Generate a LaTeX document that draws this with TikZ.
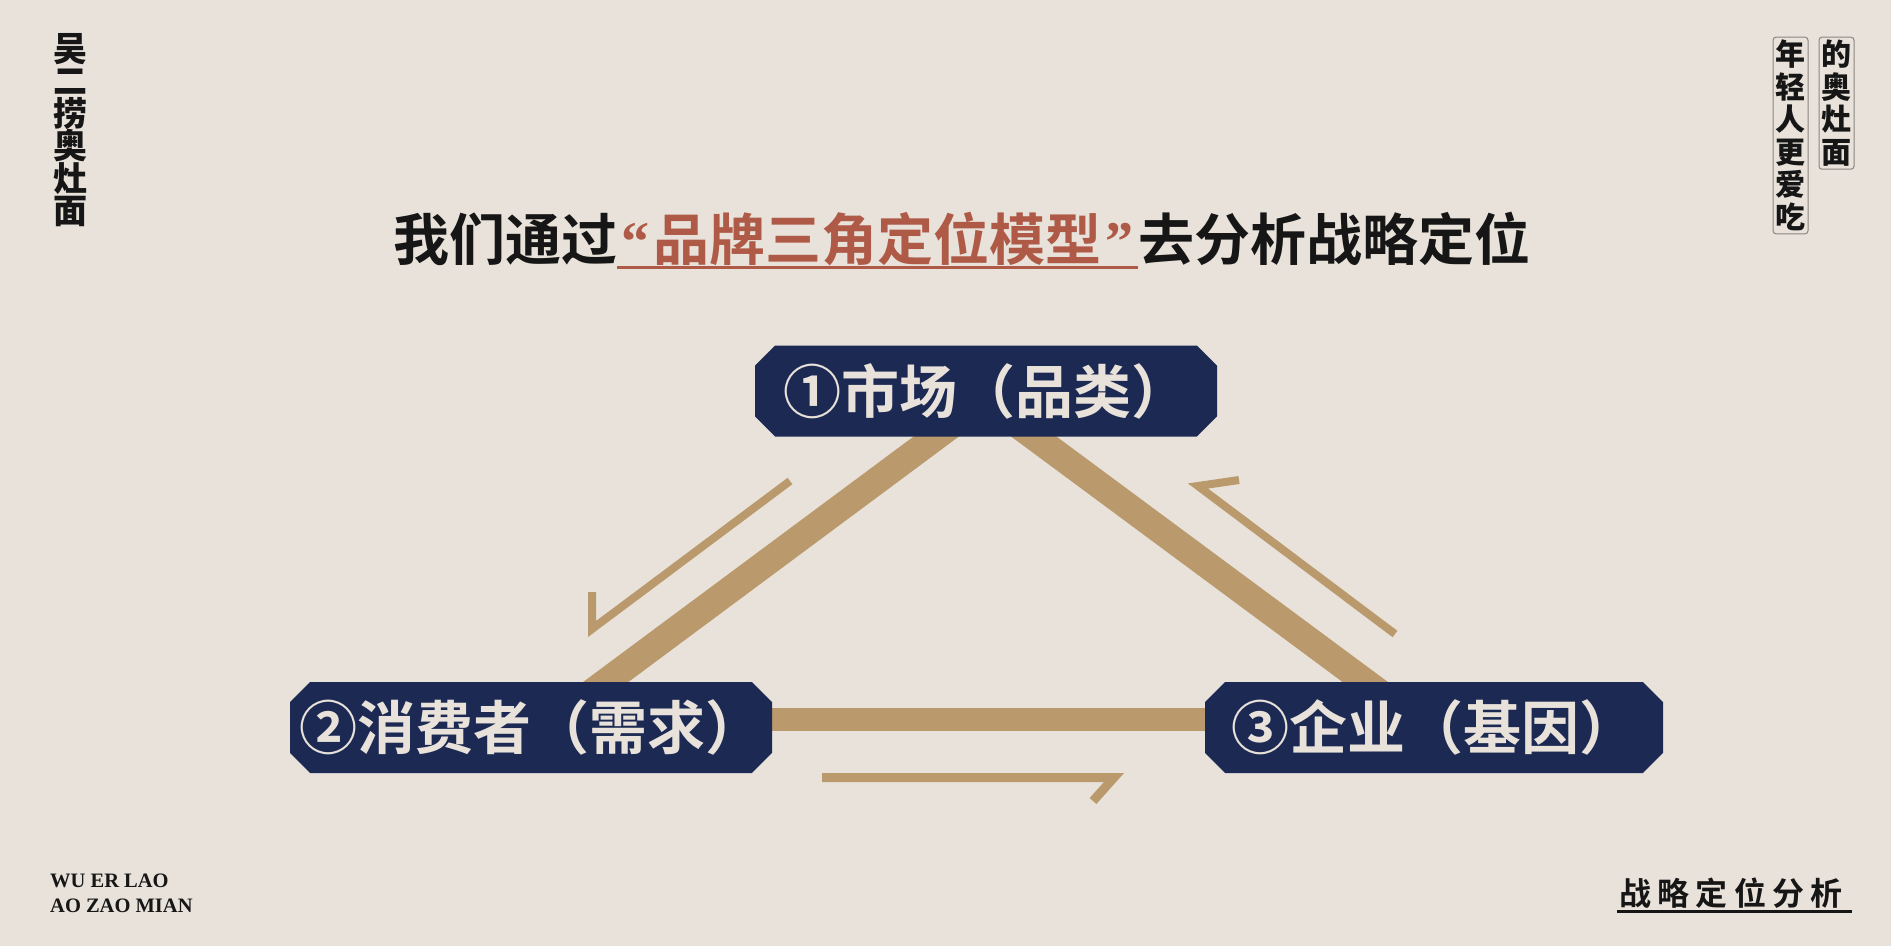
\documentclass[tikz,border=0pt]{standalone}
\usepackage{fontspec}
\setmainfont{Liberation Serif}
\newfontfamily\cjk{Noto Sans CJK SC}[BoldFont={Noto Sans CJK SC Bold}]
\newfontfamily\cjkblack{Noto Sans CJK SC Black}
\usetikzlibrary{positioning,shapes.misc,backgrounds}

\definecolor{paper}{HTML}{E8E2DA}
\definecolor{navy}{HTML}{1B2953}
\definecolor{gold}{HTML}{BA9A6C}
\definecolor{brick}{HTML}{AE5A47}
\definecolor{ink}{HTML}{161616}
\definecolor{frame}{HTML}{8A8580}

\newcommand{\openq}{{\rmfamily\bfseries\kern4pt“\kern4pt}}
\newcommand{\closeq}{{\rmfamily\bfseries\kern4pt”\kern4pt}}

\tikzset{
  pillar/.style={chamfered rectangle, chamfered rectangle xsep=17pt, fill=navy, text=paper,
    font=\cjk\bfseries\fontsize{58}{58}\selectfont, minimum height=91pt, inner xsep=-8pt, inner ysep=0pt},
  bar/.style={gold, line width=24pt, shorten <=-20pt, shorten >=-20pt},
  harpoon/.style={gold, line width=8pt},
  title/.style={font=\cjk\bfseries\fontsize{56}{56}\selectfont, text=ink, inner sep=0pt},
  vtext/.style={font=\cjkblack\fontsize{30}{32.5}\selectfont, text=ink, align=center, inner xsep=2.5pt, inner ysep=3pt},
  latin/.style={font=\bfseries\fontsize{20.5}{24}\selectfont, text=ink, inner sep=0pt}
}

\begin{document}
\begin{tikzpicture}[x=1pt, y=-1pt]
  \useasboundingbox (0,0) rectangle (1891,946);

  \node[title, anchor=base west] (tl) at (393,260) {我们通过};
  \node[title, text=brick, base right=0pt of tl] (tm) {\openq 品牌三角定位模型\closeq};
  \node[title, base right=0pt of tm] (tr) {去分析战略定位};
  \draw[brick, line width=3pt] ([yshift=-7pt]tm.base west) -- ([yshift=-7pt]tm.base east);

  \node[pillar, minimum width=462pt] (mkt) at (986,391) {①市场（品类）};
  \node[pillar, minimum width=482pt] (csm) at (531,727.5) {②消费者（需求）};
  \node[pillar, minimum width=458pt] (ent) at (1434,727.5) {③企业（基因）};

  \begin{scope}[on background layer]
    \fill[paper] (0,0) rectangle (1891,946);
    \draw[bar, line width=27pt] ([xshift=-50pt]mkt.south) -- ([xshift=75pt]csm.north);
    \draw[bar, line width=27pt] ([xshift=48pt]mkt.south) -- ([xshift=-69pt]ent.north);
    \draw[bar, line width=23pt] ([yshift=8pt]csm.east) -- ([yshift=8pt]ent.west);
  \end{scope}

  \coordinate (la) at (790,481);
  \coordinate (lb) at (592,629);
  \coordinate (lc) at (592,592);
  \draw[harpoon] (la) -- (lb) -- (lc);
  \coordinate (ra) at (1395,634);
  \coordinate (rb) at (1198,486);
  \coordinate (rc) at (1239,480);
  \draw[harpoon] (ra) -- (rb) -- (rc);
  \coordinate (ba) at (822,777.5);
  \coordinate (bb) at (1114,777.5);
  \coordinate (bc) at (1093,801);
  \draw[harpoon, line width=9pt] (ba) -- (bb) -- (bc);

  \node[vtext, font=\cjkblack\fontsize{34}{32.5}\selectfont] (brand) at (70,130) {吴\\二\\捞\\奥\\灶\\面};
  \node[vtext, draw=frame, line width=1pt, rounded corners=3pt] (sl1) at (1790.5,135.5) {年\\轻\\人\\更\\爱\\吃};
  \node[vtext, draw=frame, line width=1pt, rounded corners=3pt, right=10pt of sl1.north east, anchor=north west] (sl2) {的\\奥\\灶\\面};

  \node[latin, anchor=base west] (wu1) at (50,887) {WU ER LAO};
  \node[latin, anchor=base west] (wu2) at (50,912) {AO ZAO MIAN};

  \node[font=\cjk\bfseries\fontsize{32}{32}\selectfont, text=ink, inner xsep=0pt, inner ysep=3pt] (tag) at (1731,893)
    {战\kern6.4pt 略\kern6.4pt 定\kern6.4pt 位\kern6.4pt 分\kern6.4pt 析};
  \draw[ink, line width=3pt] ([xshift=-2pt]tag.south west) -- ([xshift=9pt]tag.south east);
\end{tikzpicture}
\end{document}
